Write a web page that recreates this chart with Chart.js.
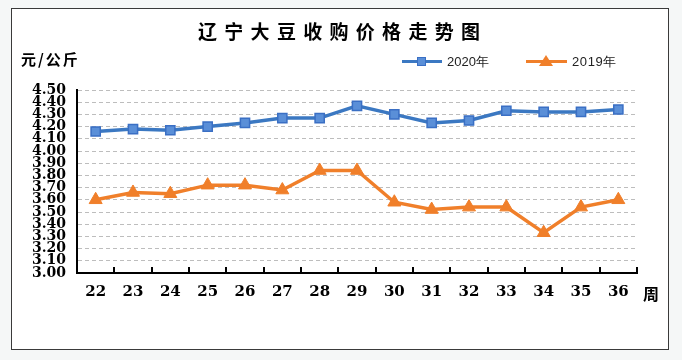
<!DOCTYPE html>
<html>
<head>
<meta charset="utf-8">
<script src="https://cdn.jsdelivr.net/npm/chart.js@4/dist/chart.umd.min.js"></script>
<style>
  html, body { margin: 0; padding: 0; }
  body { width: 682px; height: 360px; background: #f5f7f7; position: relative; overflow: hidden; }
  #frame { position: absolute; left: 11px; top: 8px; width: 656px; height: 340px; border: 1px solid #3a3a3a; background: #ffffff; }
  #wrap { position: absolute; left: 0; top: 0; width: 656px; height: 340px; }
  .txt { position: absolute; white-space: nowrap; color: #000; }
  #title { left: 186px; top: 9px; font: bold 19px "Noto Sans CJK SC", sans-serif; letter-spacing: 7.3px; line-height: 26px; }
  #unit { left: 9px; top: 40px; font: bold 15px "Noto Sans CJK SC", sans-serif; letter-spacing: 2px; line-height: 20px; }
  #week { left: 631px; top: 274px; font: bold 16px "Noto Sans CJK SC", sans-serif; line-height: 20px; }
  .leg { position: absolute; top: 44px; height: 18px; width: 120px; }
  .leg .ln { position: absolute; left: 0; top: 7px; height: 3px; }
  .leg .lab { position: absolute; top: 0; font: 13px "Liberation Sans", sans-serif; line-height: 18px; color: #222; white-space: nowrap; }
  .sq { position: absolute; width: 7px; height: 7px; top: 4px; background: #5a8fd8; border: 1.5px solid #3a6fc4; }
  .tri { position: absolute; width: 0; height: 0; top: 2px; border-left: 7px solid transparent; border-right: 7px solid transparent; border-bottom: 11px solid #f07f2a; }
</style>
</head>
<body>
<div id="frame">
  <div id="wrap"><canvas id="c"></canvas></div>
  <div class="txt" id="title">辽宁大豆收购价格走势图</div>
  <div class="txt" id="unit">元/公斤</div>
  <div class="txt" id="week">周</div>
  <div class="leg" style="left:390px;">
    <div class="ln" style="width:40px;background:#3b78c2;"></div>
    <div class="sq" style="left:15px;"></div>
    <div class="lab" id="lab0" style="left:45px;"></div>
  </div>
  <div class="leg" style="left:514px;">
    <div class="ln" style="width:41px;background:#f07f2a;"></div>
    <div class="tri" style="left:13px;"></div>
    <div class="lab" id="lab1" style="left:46px;letter-spacing:0.6px;"></div>
  </div>
</div>
<script>
// ---- data ----
const weeks = ['22','23','24','25','26','27','28','29','30','31','32','33','34','35','36'];
const price2020 = [4.16, 4.18, 4.17, 4.20, 4.23, 4.27, 4.27, 4.37, 4.30, 4.23, 4.25, 4.33, 4.32, 4.32, 4.34];
const price2019 = [3.60, 3.66, 3.65, 3.72, 3.72, 3.68, 3.84, 3.84, 3.58, 3.52, 3.54, 3.54, 3.33, 3.54, 3.60];
const seriesNames = ['2020年', '2019年'];
const yMin = 3.00, yMax = 4.50, yStep = 0.10;

document.getElementById('lab0').textContent = seriesNames[0];
document.getElementById('lab1').textContent = seriesNames[1];

const innerTicks = {
  id: 'innerTicks',
  afterDatasetsDraw(chart) {
    const xs = chart.scales.x, a = chart.chartArea, ctx = chart.ctx;
    ctx.save();
    ctx.strokeStyle = '#000';
    ctx.lineWidth = 2;
    ctx.beginPath();
    for (let i = 1; i <= weeks.length; i++) {
      const px = Math.round(xs.getPixelForValue(i - 0.5));
      ctx.moveTo(px, a.bottom);
      ctx.lineTo(px, a.bottom - 6);
    }
    ctx.stroke();
    ctx.restore();
  }
};

new Chart(document.getElementById('c'), {
  type: 'line',
  data: {
    labels: weeks,
    datasets: [
      {
        label: seriesNames[0],
        data: price2020,
        borderColor: '#3b78c2',
        borderWidth: 3.5,
        pointStyle: 'rect',
        pointRadius: 6.5,
        pointBackgroundColor: '#5a8fd8',
        pointBorderColor: '#3a6fc4',
        pointBorderWidth: 1.5,
        tension: 0,
        clip: false
      },
      {
        label: seriesNames[1],
        data: price2019,
        borderColor: '#f07f2a',
        borderWidth: 3.5,
        pointStyle: 'triangle',
        pointRadius: 7.5,
        pointBackgroundColor: '#f07f2a',
        pointBorderColor: '#f07f2a',
        pointBorderWidth: 1,
        tension: 0,
        clip: false
      }
    ]
  },
  options: {
    responsive: true,
    maintainAspectRatio: false,
    animation: false,
    layout: { padding: { top: 81, right: 31, left: 0, bottom: 0 } },
    plugins: { legend: { display: false }, title: { display: false }, tooltip: { enabled: false } },
    scales: {
      x: {
        type: 'category',
        offset: true,
        grid: { display: true, drawOnChartArea: false, drawTicks: false, offset: true },
        border: { display: true, color: '#000', width: 2 },
        ticks: { color: '#000', padding: 10, font: { family: '"DejaVu Serif", serif', size: 15, weight: 'bold' }, maxRotation: 0, autoSkip: false },
        afterFit(s) { s.height = 76; }
      },
      y: {
        min: yMin,
        max: yMax,
        grid: { color: '#bdbdbd', lineWidth: 1, drawTicks: false },
        border: { display: true, color: '#000', width: 2, dash: [4, 3] },
        ticks: {
          stepSize: yStep,
          autoSkip: false,
          color: '#000',
          padding: 11,
          font: { family: '"DejaVu Serif", serif', size: 14, weight: 'bold' },
          callback: v => Number(v).toFixed(2)
        },
        afterFit(s) { s.width = 65; }
      }
    }
  },
  plugins: [innerTicks]
});
</script>
</body>
</html>
